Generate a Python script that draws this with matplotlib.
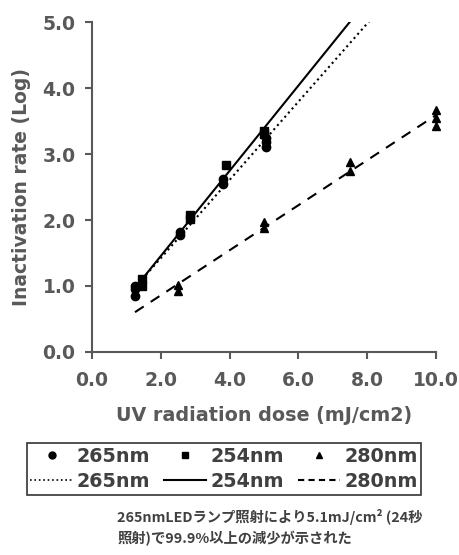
import numpy as np
import matplotlib.pyplot as plt
from matplotlib.lines import Line2D

# measured points (dose mJ/cm2, log inactivation)
x265 = [1.25, 1.25, 1.25, 2.55, 2.55, 3.8, 3.8, 5.05, 5.05, 5.05]
y265 = [0.85, 0.95, 1.0, 1.78, 1.82, 2.55, 2.62, 3.1, 3.18, 3.25]
x254 = [1.45, 1.45, 2.85, 2.85, 3.9, 5.0, 5.0]
y254 = [1.0, 1.1, 2.02, 2.07, 2.83, 3.3, 3.35]
x280 = [2.5, 2.5, 5.0, 5.0, 7.5, 7.5, 10.0, 10.0, 10.0]
y280 = [0.93, 1.02, 1.88, 1.97, 2.75, 2.88, 3.42, 3.55, 3.67]

# range over which each trend line is drawn
fit265 = [1.25, 8.5]
fit254 = [1.45, 8.5]
fit280 = [1.25, 10.0]

xticks = [0, 2, 4, 6, 8, 10]
yticks = [0, 1, 2, 3, 4, 5]

gray = '#595959'
plt.rcParams['font.family'] = ['DejaVu Sans']

fig = plt.figure(figsize=(4.59, 5.55), dpi=100)
ax = fig.add_axes([0.2004, 0.366, 0.7496, 0.594])

ax.plot(x265, y265, 'o', color='black', markersize=6, clip_on=False)
ax.plot(x254, y254, 's', color='black', markersize=6, clip_on=False)
ax.plot(x280, y280, '^', color='black', markersize=6, clip_on=False)

for xs, ys, rng, ls in [(x265, y265, fit265, ':'), (x254, y254, fit254, '-'),
                        (x280, y280, fit280, (0, (5, 4)))]:
    k, b = np.polyfit(xs, ys, 1)
    xx = np.array(rng)
    ax.plot(xx, k * xx + b, color='black', linestyle=ls, linewidth=1.5)

ax.set_xlim(0, 10)
ax.set_ylim(0, 5)
ax.set_xticks(xticks)
ax.set_yticks(yticks)
ax.set_xticklabels([f'{v:.1f}' for v in xticks])
ax.set_yticklabels([f'{v:.1f}' for v in yticks])
for s in ['top', 'right']:
    ax.spines[s].set_visible(False)
for s in ['left', 'bottom']:
    ax.spines[s].set_color(gray)
    ax.spines[s].set_linewidth(1.5)
ax.tick_params(colors=gray, width=1.5, length=5, labelsize=13.5)
ax.tick_params(axis='x', pad=9)
ax.tick_params(axis='y', pad=7)
for t in ax.get_xticklabels() + ax.get_yticklabels():
    t.set_fontweight('bold')

ax.set_xlabel('UV radiation dose (mJ/cm2)', fontsize=13.8, fontweight='bold',
              color=gray, labelpad=11)
ax.set_ylabel('Inactivation rate (Log)', fontsize=13.5, fontweight='bold',
              color=gray, labelpad=8)

handles = [
    Line2D([], [], marker='o', color='black', linestyle='none', markersize=5),
    Line2D([], [], color='black', linestyle=':', linewidth=1.2),
    Line2D([], [], marker='s', color='black', linestyle='none', markersize=5),
    Line2D([], [], color='black', linestyle='-', linewidth=1.5),
    Line2D([], [], marker='^', color='black', linestyle='none', markersize=5),
    Line2D([], [], color='black', linestyle=(0, (3, 2)), linewidth=1.5),
]
labels = ['265nm', '265nm', '254nm', '254nm', '280nm', '280nm']
leg = fig.legend(handles, labels, ncol=3, loc='center',
                 bbox_to_anchor=(0.488, 0.155), frameon=True, fancybox=False,
                 edgecolor='black', handlelength=2.2,
                 handletextpad=0.2, columnspacing=0.75, borderpad=0.2,
                 labelspacing=0.3, borderaxespad=0,
                 prop={'weight': 'bold', 'size': 13.8})
leg.get_frame().set_linewidth(1.2)
for t in leg.get_texts():
    t.set_color('#404040')

fig.text(0.255, 0.05, '265nmLEDランプ照射により5.1mJ/cm² (24秒\n照射)で99.9%以上の減少が示された',
         family=['Noto Sans CJK JP', 'DejaVu Sans'], fontweight='bold',
         fontsize=10.3, color='#404040', ha='left', va='center', linespacing=1.5)

fig.savefig('out.png', dpi=100)
